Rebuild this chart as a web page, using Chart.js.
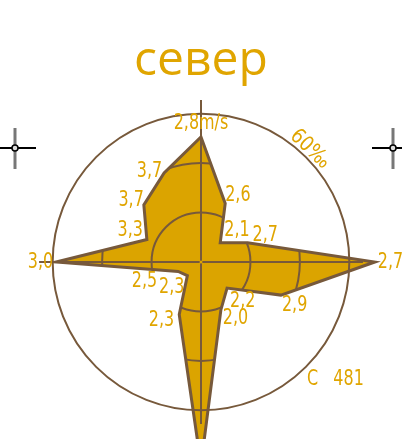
<!DOCTYPE html>
<html>
<head>
<meta charset="utf-8">
<script src="https://cdn.jsdelivr.net/npm/chart.js@4.4.0/dist/chart.umd.min.js"></script>
<style>
  html, body { margin: 0; padding: 0; background: #fff; }
  canvas { display: block; }
</style>
</head>
<body>
<canvas id="rose" width="402" height="439"></canvas>
<script>
// wind rose, 16 directions clockwise from north
const directions = ['N', 'NNE', 'NE', 'ENE', 'E', 'ESE', 'SE', 'SSE', 'S', 'SSW', 'SW', 'WSW', 'W', 'WNW', 'NW', 'NNW'];
// frequency, per mille
const frequency = [50.6, 25.6, 11, 20.4, 70.3, 35, 14.9, 21, 82, 23, 7.8, 10, 58.6, 23.7, 32.7, 39];
// mean wind speed, m/s (south one is off the picture)
const speeds = ['2,8m/s', '2,6', '2,1', '2,7', '2,7', '2,9', '2,2', '2,0', null, '2,3', '2,3', '2,5', '3,0', '3,3', '3,7', '3,7'];
const innerRings = [20, 40];
const outerRing = 60;
const axisLength = 65.5;
const outerLabel = '60‰';
const calmLabel = 'С   481';

const brown = '#77593b';
const gold = '#dba400';
const textGold = '#e0a500';

function smallText(ctx, txt, x, y, align) {
    ctx.save();
    ctx.translate(x, y);
    ctx.scale(0.76, 1);
    ctx.textAlign = align;
    ctx.textBaseline = 'alphabetic';
    ctx.fillText(txt, 0, 0);
    ctx.restore();
}

function crosshair(ctx, x, y, x0, x1) {
    ctx.save();
    ctx.strokeStyle = '#777';
    ctx.lineWidth = 3;
    ctx.beginPath();
    ctx.moveTo(x, y - 20);
    ctx.lineTo(x, y + 21);
    ctx.stroke();
    ctx.strokeStyle = '#000';
    ctx.lineWidth = 2;
    ctx.beginPath();
    ctx.moveTo(x0, y);
    ctx.lineTo(x1, y);
    ctx.stroke();
    ctx.fillStyle = '#ddd';
    ctx.lineWidth = 1.5;
    ctx.beginPath();
    ctx.arc(x, y, 3, 0, Math.PI * 2);
    ctx.fill();
    ctx.stroke();
    ctx.restore();
}

// label offsets from each vertex: dx, dy, align
const nudge = [[0, -8, 'center'], [0, -3, 'left'], [4, -7, 'left'], [5, -2, 'left'],
    [3, 6, 'left'], [1, 16, 'left'], [3, 19, 'left'], [2, 14, 'left'],
    [0, 20, 'center'], [-5, 11, 'right'], [-3, 17, 'right'], [-21, 16, 'right'],
    [-3, 6, 'right'], [-4, -4, 'right'], [0, 1, 'right'], [-2, 4, 'right']];

const extras = {
    id: 'extras',
    afterDatasetsDraw(chart) {
        const r = chart.scales.r;
        const pts = chart.getDatasetMeta(0).data;
        const ctx = chart.ctx;
        ctx.save();
        ctx.beginPath();
        pts.forEach((p, i) => i ? ctx.lineTo(p.x, p.y) : ctx.moveTo(p.x, p.y));
        ctx.closePath();
        ctx.clip();
        ctx.strokeStyle = brown;
        ctx.lineWidth = 2;
        innerRings.forEach(v => {
            ctx.beginPath();
            ctx.arc(r.xCenter, r.yCenter, r.getDistanceFromCenterForValue(v), 0, Math.PI * 2);
            ctx.stroke();
        });
        ctx.restore();

        // N-E-S-W axis cross
        ctx.save();
        ctx.strokeStyle = brown;
        ctx.lineWidth = 2;
        [0, 4, 8, 12].forEach(i => {
            const p = r.getPointPositionForValue(i, axisLength);
            ctx.beginPath();
            ctx.moveTo(r.xCenter, r.yCenter);
            ctx.lineTo(p.x, p.y);
            ctx.stroke();
        });
        ctx.restore();
    },
    afterDraw(chart) {
        const r = chart.scales.r;
        const ctx = chart.ctx;
        ctx.save();
        ctx.fillStyle = textGold;
        ctx.font = '21px "DejaVu Sans"';
        speeds.forEach((s, i) => {
            if (!s) return;
            const p = r.getPointPositionForValue(i, frequency[i]);
            smallText(ctx, s, p.x + nudge[i][0], p.y + nudge[i][1], nudge[i][2]);
        });

        // ring label along the circle
        const R = r.getDistanceFromCenterForValue(outerRing) + 3;
        const a = 44 * Math.PI / 180;
        ctx.save();
        ctx.translate(r.xCenter + Math.sin(a) * R, r.yCenter - Math.cos(a) * R);
        ctx.rotate(a);
        ctx.scale(0.85, 1);
        ctx.textAlign = 'center';
        ctx.fillText(outerLabel, 0, 0);
        ctx.restore();

        smallText(ctx, calmLabel, 307, 385, 'left');

        // centre dot
        ctx.beginPath();
        ctx.arc(r.xCenter, r.yCenter, 1.5, 0, Math.PI * 2);
        ctx.fill();
        ctx.restore();

        crosshair(ctx, 15, 148, 0, 36);
        crosshair(ctx, 393, 148, 372, 402);
    }
};

new Chart(document.getElementById('rose'), {
    type: 'radar',
    data: {
        labels: directions,
        datasets: [{
            data: frequency,
            backgroundColor: gold,
            borderColor: brown,
            borderWidth: 3,
            borderJoinStyle: 'miter',
            fill: true,
            pointRadius: 0,
            clip: false
        }]
    },
    plugins: [extras],
    options: {
        responsive: false,
        animation: false,
        devicePixelRatio: 1,
        layout: { padding: 0 },
        plugins: {
            legend: { display: false },
            tooltip: { enabled: false },
            title: {
                display: true,
                text: 'север',
                color: textGold,
                font: { family: 'Open Sans', size: 48, weight: 'normal', lineHeight: 1 },
                padding: { top: 37, bottom: 0 }
            }
        },
        scales: {
            r: {
                min: 0,
                max: 71.6,
                z: 1,
                ticks: { display: false, stepSize: 20 },
                pointLabels: { display: false },
                grid: {
                    z: 1,
                    circular: true,
                    color: brown,
                    lineWidth: c => c.tick && c.tick.value === outerRing ? 2 : 0
                },
                angleLines: { display: false }
            }
        }
    }
});
</script>
</body>
</html>
